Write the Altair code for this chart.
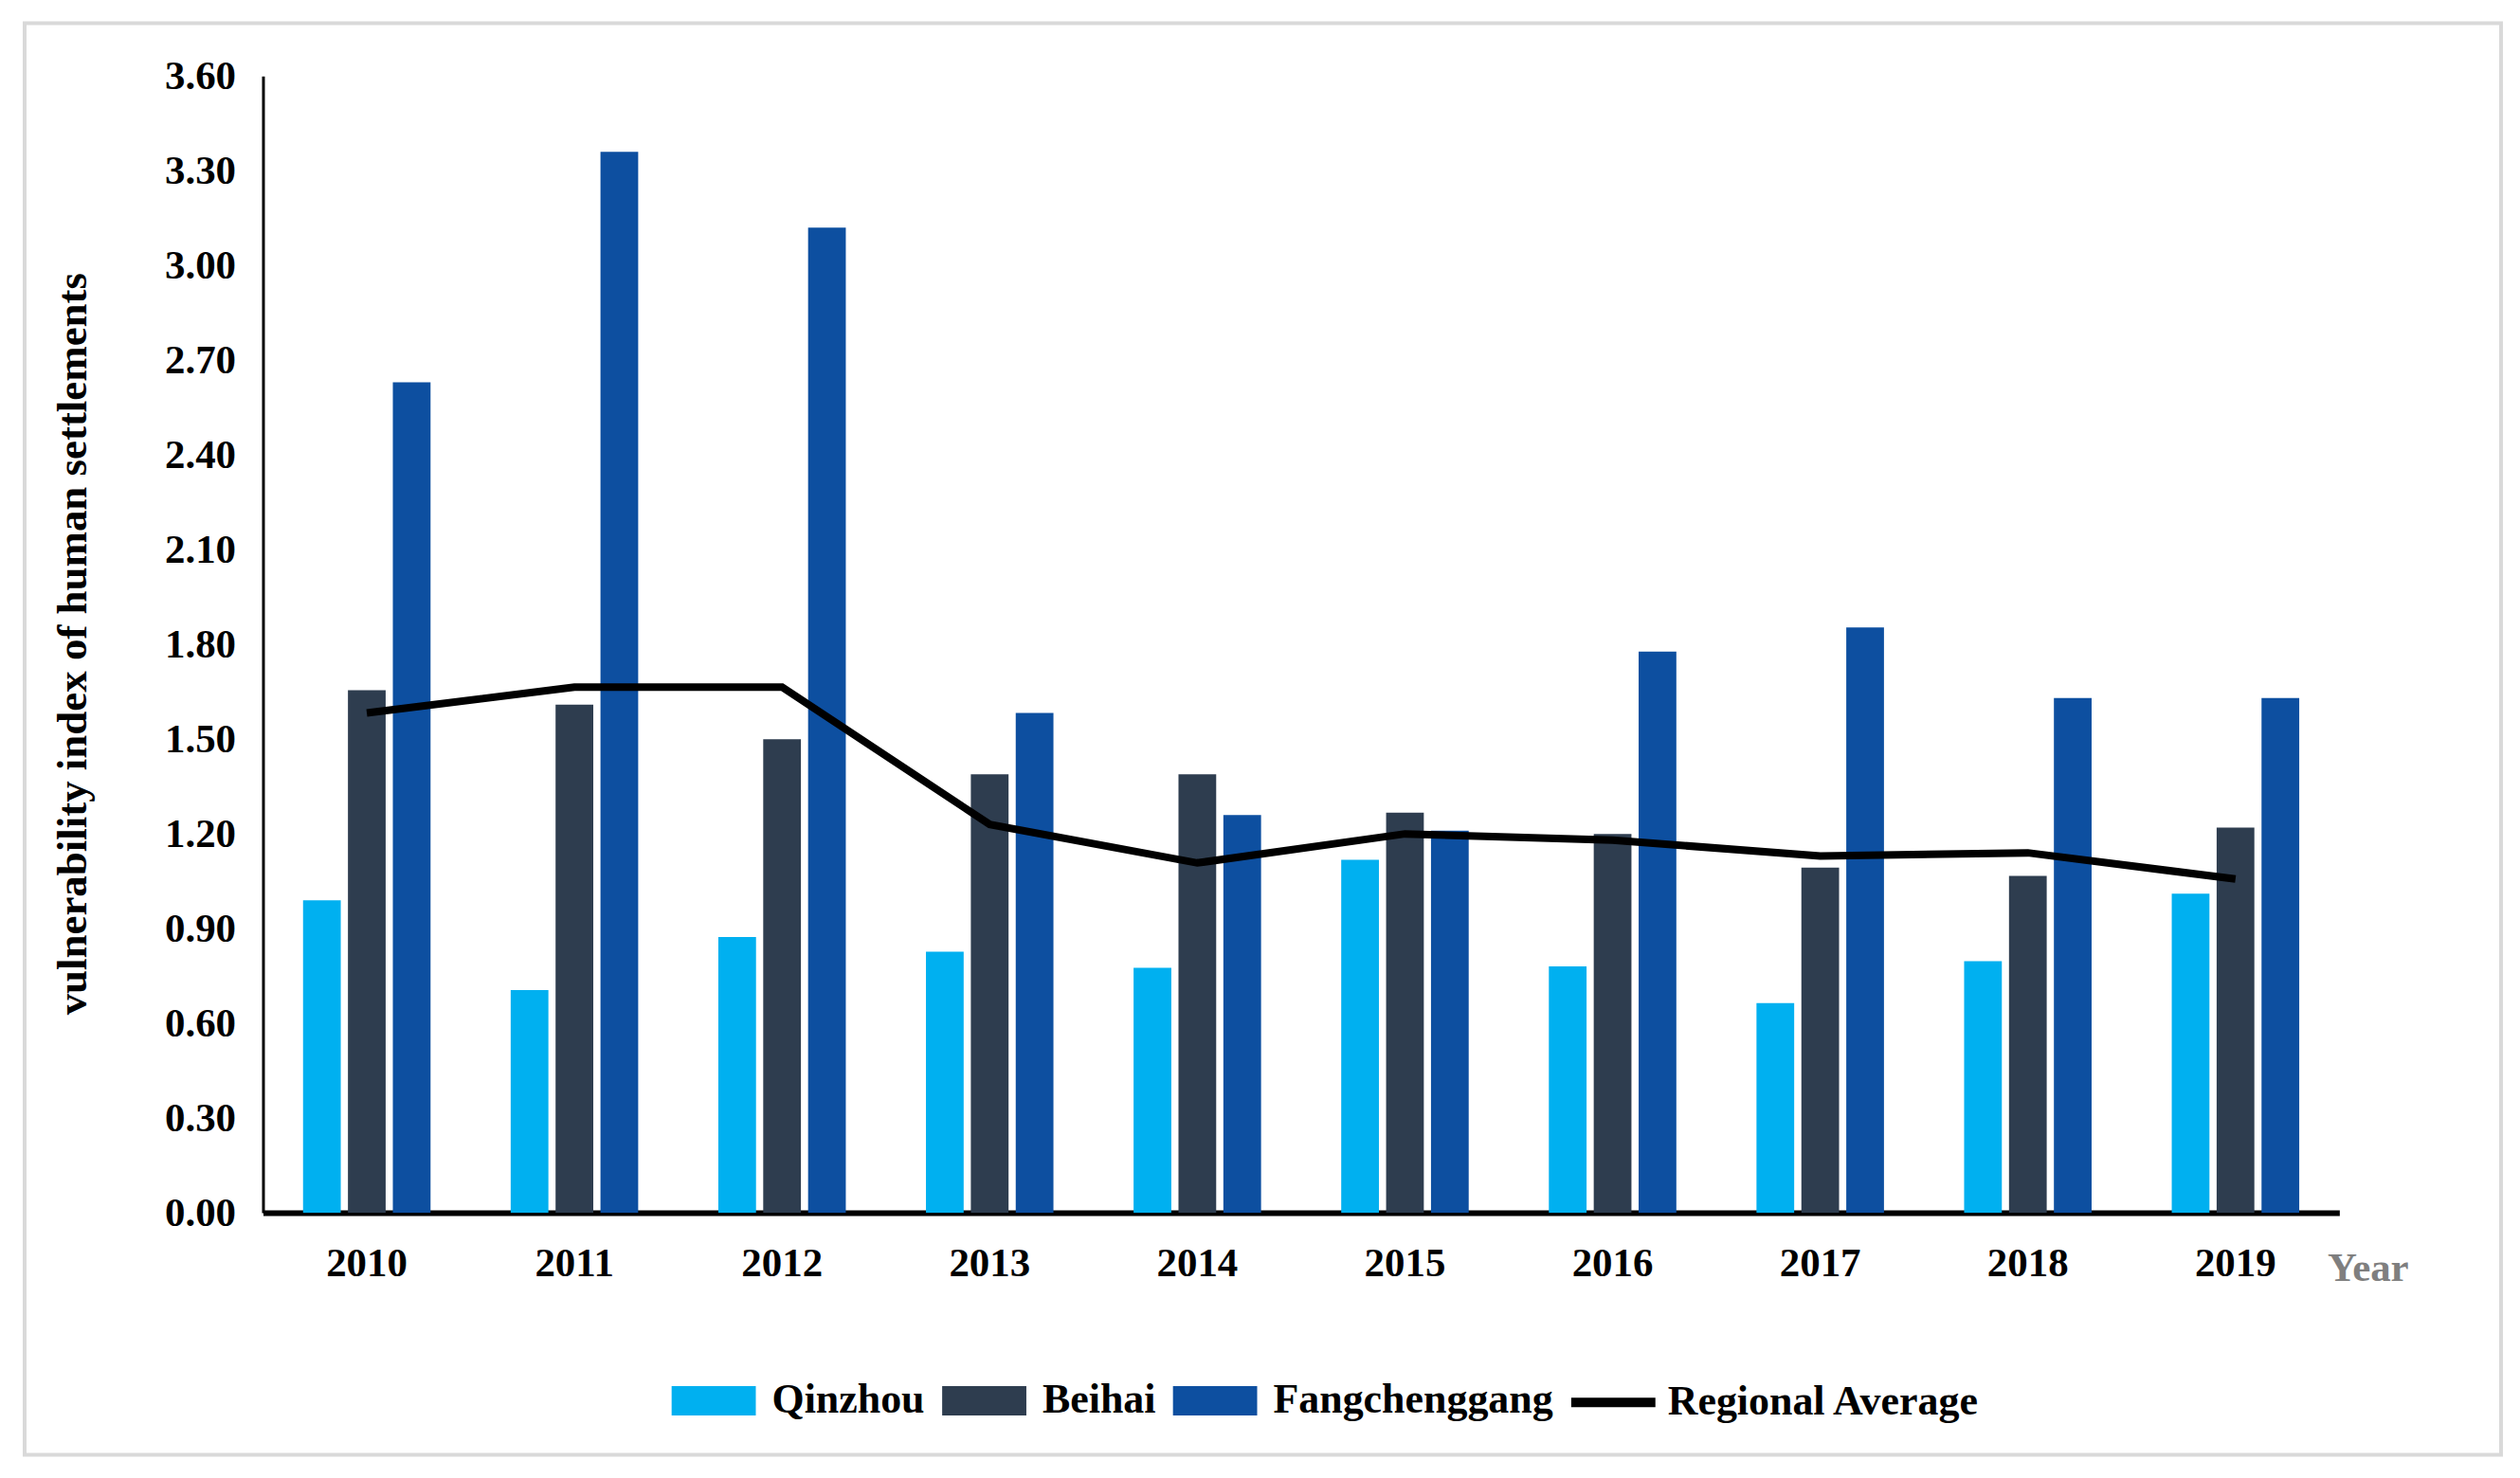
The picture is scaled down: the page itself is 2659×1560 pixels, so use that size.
import altair as alt
import pandas as pd

years = ["2010", "2011", "2012", "2013", "2014", "2015", "2016", "2017", "2018", "2019"]
series = ["Qinzhou", "Beihai", "Fangchenggang"]
qinzhou = [0.99, 0.705, 0.873, 0.827, 0.776, 1.118, 0.78, 0.664, 0.797, 1.011]
beihai = [1.655, 1.609, 1.50, 1.389, 1.389, 1.267, 1.20, 1.093, 1.067, 1.22]
fangchenggang = [2.63, 3.36, 3.12, 1.583, 1.26, 1.21, 1.777, 1.854, 1.63, 1.63]
regional_avg = [1.583, 1.665, 1.665, 1.23, 1.108, 1.20, 1.18, 1.13, 1.14, 1.057]
y_ticks = [0.0, 0.3, 0.6, 0.9, 1.2, 1.5, 1.8, 2.1, 2.4, 2.7, 3.0, 3.3, 3.6]
bar_colors = ["#00B0F0", "#2E3D4F", "#0D4FA0"]

rows = []
for name, vals in zip(series, [qinzhou, beihai, fangchenggang]):
    for yr, v in zip(years, vals):
        rows.append({"year": yr, "series": name, "value": v})
bars_df = pd.DataFrame(rows)
line_df = pd.DataFrame({"year": years, "value": regional_avg, "name": ["Regional Average"] * len(years)})
frame_df = pd.DataFrame({"k": [0]})

FONT = "Liberation Serif"

x_enc = alt.X(
    "year:N",
    sort=years,
    scale=alt.Scale(paddingInner=0.386, paddingOuter=0.193),
    axis=alt.Axis(
        title="Year",
        titleX=2225,
        titleY=59,
        titleAlign="center",
        titleBaseline="middle",
        titleColor="#7f7f7f",
        titleFont=FONT,
        titleFontSize=43,
        titleFontWeight="bold",
        labelAngle=0,
        labelFont=FONT,
        labelFontSize=43,
        labelFontWeight="bold",
        labelColor="black",
        labelPadding=33,
        ticks=False,
        domainColor="black",
        domainWidth=6,
        grid=False,
    ),
)

y_enc = alt.Y(
    "value:Q",
    scale=alt.Scale(domain=[0, 3.6], nice=False),
    axis=alt.Axis(
        title="vulnerability index of human settlements",
        values=y_ticks,
        format=".2f",
        titleX=-201,
        titleY=600,
        titleAngle=-90,
        titleAlign="center",
        titleBaseline="middle",
        titleFont=FONT,
        titleFontSize=45,
        titleFontWeight="bold",
        titleColor="black",
        labelFont=FONT,
        labelFontSize=43,
        labelFontWeight="bold",
        labelColor="black",
        labelPadding=29,
        ticks=False,
        domainColor="black",
        domainWidth=3,
        grid=False,
    ),
)

bars = alt.Chart(bars_df).mark_bar().encode(
    x=x_enc,
    xOffset=alt.XOffset("series:N", sort=series, scale=alt.Scale(domain=series, paddingInner=0.16, paddingOuter=0)),
    y=y_enc,
    color=alt.Color(
        "series:N",
        scale=alt.Scale(domain=series, range=bar_colors),
        legend=alt.Legend(
            title=None,
            orient="none",
            direction="horizontal",
            legendX=432,
            legendY=1356,
            symbolType="M-1,-0.35H1V0.35H-1Z",
            symbolSize=7921,
            symbolStrokeWidth=0,
            symbolOpacity=1,
            labelFont=FONT,
            labelFontSize=44,
            labelFontWeight="bold",
            labelColor="black",
            labelOffset=17,
            columnPadding=18,
            padding=0,
            labelLimit=600,
        ),
    ),
)

line = alt.Chart(line_df).mark_line(strokeWidth=8).encode(
    x=alt.X("year:N", sort=years),
    y=alt.Y("value:Q"),
    color=alt.Color(
        "name:N",
        scale=alt.Scale(domain=["Regional Average"], range=["black"]),
        legend=alt.Legend(
            title=None,
            orient="none",
            direction="horizontal",
            legendX=1378,
            legendY=1353,
            symbolType="stroke",
            symbolSize=7921,
            symbolStrokeWidth=10,
            labelFont=FONT,
            labelFontSize=44,
            labelFontWeight="bold",
            labelColor="black",
            labelOffset=8,
            padding=0,
            labelLimit=600,
        ),
    ),
)

frame = alt.Chart(frame_df).mark_rect(filled=False, stroke="#d9d9d9", strokeWidth=4).encode(
    x=alt.value(-252), x2=alt.value(2366), y=alt.value(-56), y2=alt.value(1458)
)

chart = (
    alt.layer(frame, bars, line)
    .resolve_scale(color="independent")
    .properties(width=2195, height=1202, padding={"left": 16, "top": 13, "right": 10, "bottom": 10}, background="white")
    .configure_view(stroke=None)
)

chart.save("out.html", embed_options={"renderer": "svg", "actions": False})
